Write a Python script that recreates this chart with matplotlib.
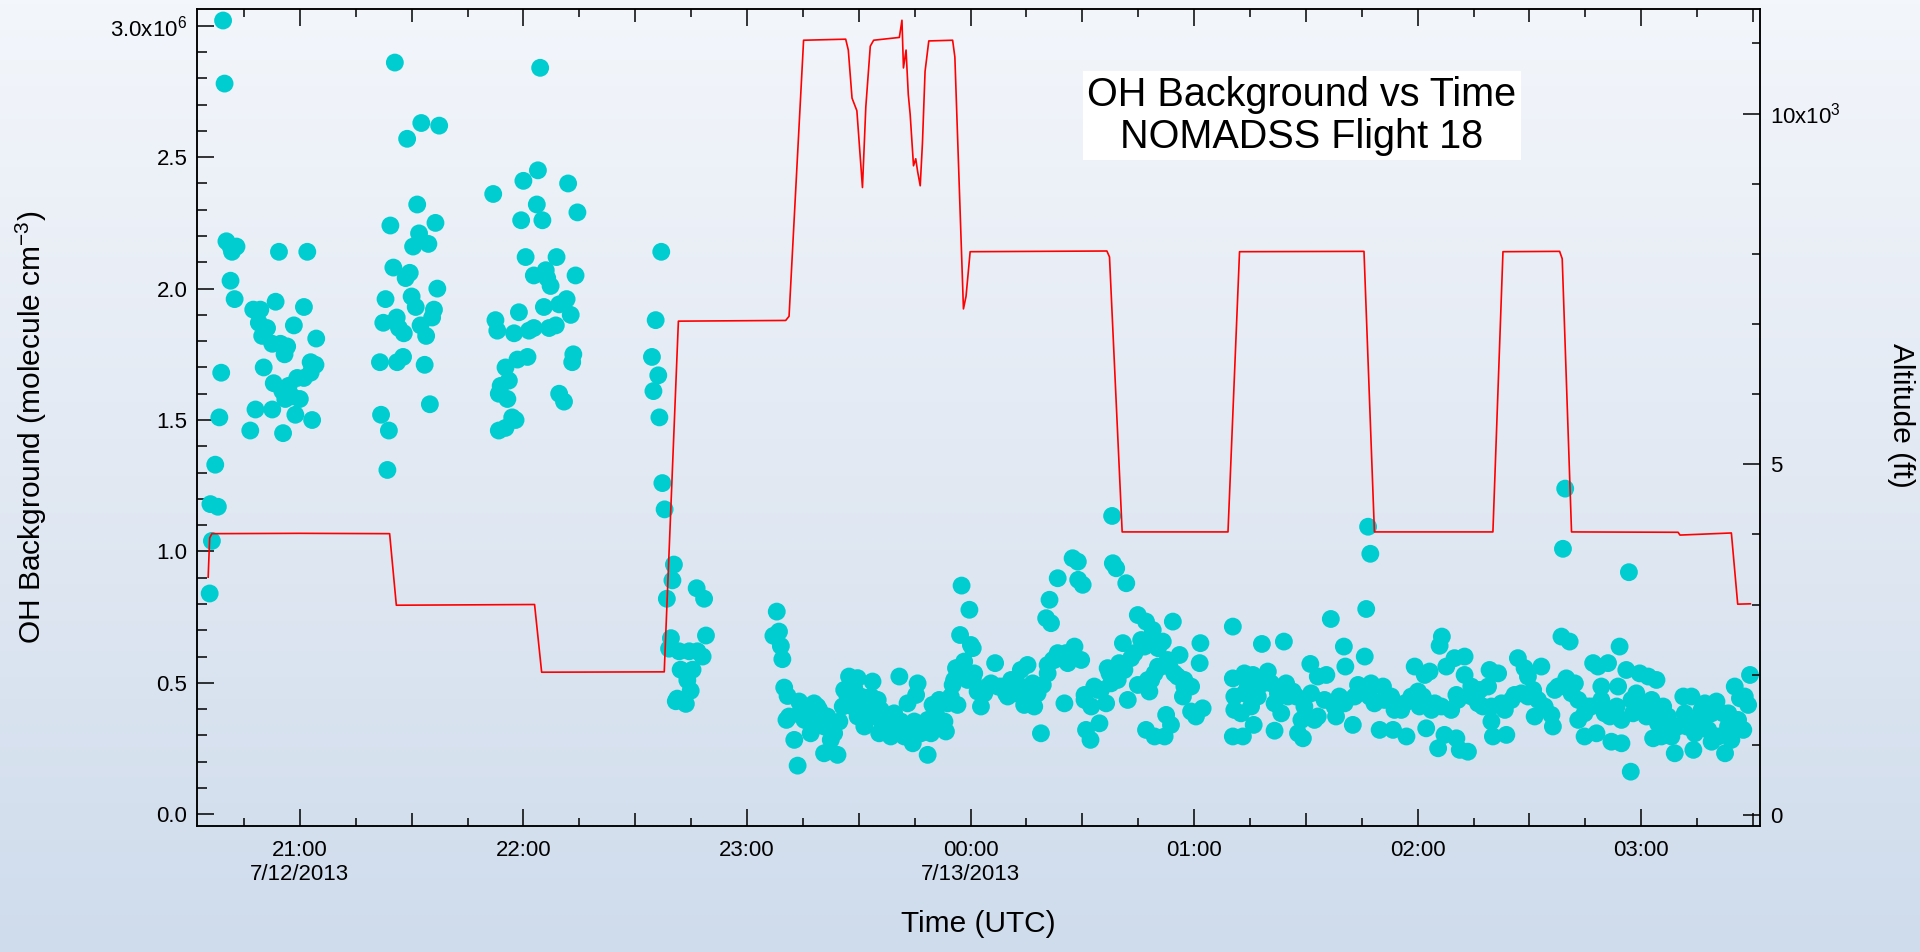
import numpy as np
import pandas as pd
import matplotlib
matplotlib.use("Agg")
import matplotlib.pyplot as plt
import matplotlib.dates as mdates
from matplotlib.colors import LinearSegmentedColormap
from matplotlib.patches import Rectangle
from matplotlib.ticker import FuncFormatter, MultipleLocator

plt.rcParams['font.family'] = ['Liberation Sans', 'DejaVu Sans']
plt.rcParams['mathtext.fontset'] = 'custom'
plt.rcParams['mathtext.rm'] = 'Liberation Sans'
plt.rcParams['mathtext.it'] = 'Liberation Sans:italic'

# OH background samples: minutes after 21:00 UTC 7/12/2013, value in 1e6 molecule cm-3
oh_minutes = [
    -20.6, -20.2, -24.2, -23.6, -24.0, -22.0, -22.7, -21.6, -21.1, -19.7, -18.6, -17.0, -18.2, -18.6, -17.5,
    -12.5, -10.6, -6.5, -5.6, 2.0, 1.1, -1.6, -11.0, -8.8, -10.1, -7.4, -5.2, -3.4, -4.1, 4.4, -9.7, 2.9,
    4.2, 2.9, -0.7, 1.1, -7.0, -4.7, -3.0, -2.1, 0.0, -3.9, -11.9, -7.4, -1.2, 3.3, -13.3, -4.5,
    25.5, 28.8, 32.6, 37.4, 31.5, 24.3, 36.4, 32.0, 30.4, 34.5, 25.1, 29.5, 28.4, 36.9, 23.0, 30.0, 31.1,
    36.0, 35.5, 32.4, 22.4, 26.0, 26.6, 27.9, 33.9, 21.5, 26.1, 27.7, 33.5, 21.8, 23.9, 34.9, 23.5,
    64.5, 51.9, 60.0, 63.9, 72.0, 74.5, 63.6, 59.4, 65.1, 60.6, 68.9, 74.0, 62.8, 66.0, 67.3, 66.4, 71.6,
    65.5, 69.6, 72.7, 52.5, 58.8, 53.0, 57.5, 61.5, 62.8, 66.9, 68.7, 73.4, 73.1, 61.1, 58.4, 55.2, 56.1,
    53.9, 53.4, 55.7, 69.6, 70.9, 57.0, 57.9, 53.4, 55.2,
    97.0, 95.5, 94.5, 96.2, 94.9, 96.5, 97.3, 97.9, 100.4, 100.0, 98.5, 106.5, 108.5, 109.0, 99.6, 99.1,
    101.8, 104.5, 106.7, 108.1, 102.2, 105.4, 104.0, 104.9, 101.3, 103.6, 100.9,
    128.0, 127.1, 128.6, 129.1, 129.5, 130.0, 130.9, 130.6, 132.7, 133.6, 134.0, 135.4, 137.1, 138.0,
    139.4, 138.9, 140.7, 141.6, 142.5, 144.3, 144.8, 143.4, 146.1, 147.4, 149.7, 148.8, 149.7, 151.5,
    153.7, 153.3, 155.1, 155.9, 155.5, 156.8, 158.6, 159.5, 160.9, 161.3, 162.2, 163.1, 164.5, 164.9,
    165.8, 165.4, 166.7, 168.5, 169.4, 169.8, 171.6, 173.0, 173.4, 173.9, 175.2, 176.1, 176.5, 177.2,
    177.6, 179.7, 180.1, 180.6, 178.3, 181.0, 179.2, 182.8, 184.6, 186.6, 187.3, 189.5, 190.9, 192.7,
    193.5, 195.3, 194.4, 197.1, 196.7, 198.0, 199.4, 198.9, 200.3, 201.2, 201.6, 200.7, 202.1, 203.4,
    203.4, 205.2, 205.6, 207.4, 208.8, 208.9, 210.1, 207.9, 209.7, 206.1, 210.6, 211.0, 212.4, 212.2,
    214.6, 214.1, 216.4, 216.8, 218.2, 219.1, 221.8, 217.7, 219.9, 220.9, 222.2, 223.1, 224.9, 227.1,
    228.9, 225.8, 224.9, 228.0, 228.5, 230.3, 231.6, 228.5, 229.4, 231.2, 232.5, 233.8, 234.3, 227.1,
    229.4, 232.1, 233.4, 236.1, 235.6, 237.4, 237.0, 239.2, 240.5, 242.3, 241.5, 241.7, 250.4, 250.4,
    250.8, 250.8, 250.4, 218.0,
    131.3, 134.5, 136.3, 138.9, 140.7, 143.0, 145.7, 147.0, 148.3, 150.6, 151.9, 154.2, 156.4, 157.7,
    159.1, 160.9, 162.7, 164.9, 167.1, 168.5, 170.7, 172.1, 174.7, 175.6, 178.3, 180.6, 181.9, 183.7,
    185.5, 188.2, 190.0, 192.2, 193.6, 195.8, 197.1, 200.7, 202.5, 204.3, 207.0, 210.6, 213.2, 215.0,
    217.3, 219.5, 221.3, 224.0, 226.7, 227.6, 230.3, 232.9, 234.7, 237.4, 239.2,
    287.3, 339.0, 356.7, 286.2, 276.7, 258.2, 264.1, 280.2, 285.8, 280.6, 271.2, 273.2, 275.5, 253.5,
    255.8, 259.8, 260.7, 264.7, 266.5, 253.5, 257.1, 252.6, 255.3, 261.6, 263.4, 267.4, 271.4, 273.2,
    268.8, 253.1, 256.0, 261.6, 267.9, 269.2, 279.0, 278.1, 282.6, 284.0, 287.5, 290.7, 288.4, 292.9,
    289.8, 293.4, 297.0, 295.6, 299.2, 300.1, 301.9, 303.2, 300.5, 302.3, 304.6, 306.5, 305.9, 307.7,
    309.9, 312.6, 309.0, 310.4, 312.6, 314.4, 316.2, 317.5, 305.5, 307.2, 310.4, 311.3, 313.5, 319.3,
    321.6, 318.9, 319.8, 320.2, 323.8, 322.5, 326.0, 326.9, 328.7, 329.6, 333.2, 331.0, 331.4, 335.9,
    336.3, 337.7, 338.6, 340.8, 339.9, 342.2, 341.3, 343.1, 344.8, 345.7, 347.1, 348.4, 351.1, 349.3,
    348.0, 351.6, 352.0, 354.7, 353.4, 353.8, 354.2, 356.0, 357.2, 357.8, 358.7, 359.6, 361.9, 364.1,
    362.8, 361.4, 363.2, 365.9, 367.2, 365.4, 369.0, 368.1, 371.3, 373.5, 372.2, 374.0, 375.3, 377.1,
    380.2, 378.0, 378.9, 382.5, 382.0, 383.3, 384.2, 385.1, 386.5, 387.4, 388.7, 389.2, 286.7, 339.6,
    254.4, 258.5, 262.5, 265.2, 269.6, 272.3, 275.0, 277.7, 280.4, 283.1, 285.3, 287.1, 291.1, 293.8,
    296.5, 298.3, 301.4, 303.7, 306.4, 310.8, 314.4, 316.7, 319.8, 323.4, 325.2, 327.8, 329.6, 332.3,
    334.1, 336.8, 339.5, 343.1, 344.8, 346.6, 349.3, 350.2, 354.7, 357.4, 360.1, 362.8, 364.5, 367.2,
    369.9, 371.7, 374.4, 376.2, 378.9, 380.7, 383.4, 386.0, 387.8,
]
oh_values = [
    3.02, 2.78, 0.84, 1.04, 1.18, 1.17, 1.33, 1.51, 1.68, 2.18, 2.16, 2.16, 2.14, 2.03, 1.96,
    1.92, 1.92, 1.95, 2.14, 2.14, 1.93, 1.86, 1.87, 1.85, 1.82, 1.79, 1.79, 1.78, 1.75, 1.81, 1.70, 1.72,
    1.71, 1.68, 1.66, 1.66, 1.64, 1.61, 1.63, 1.59, 1.58, 1.58, 1.54, 1.54, 1.52, 1.50, 1.46, 1.45,
    2.86, 2.57, 2.63, 2.62, 2.32, 2.24, 2.25, 2.21, 2.16, 2.17, 2.08, 2.06, 2.04, 2.00, 1.96, 1.97, 1.93,
    1.92, 1.89, 1.86, 1.87, 1.89, 1.85, 1.83, 1.82, 1.72, 1.72, 1.74, 1.71, 1.52, 1.46, 1.56, 1.31,
    2.84, 2.36, 2.41, 2.45, 2.40, 2.29, 2.32, 2.26, 2.26, 2.12, 2.12, 2.05, 2.05, 2.07, 2.01, 2.04, 1.96,
    1.93, 1.94, 1.90, 1.88, 1.91, 1.84, 1.83, 1.84, 1.85, 1.85, 1.86, 1.75, 1.72, 1.74, 1.73, 1.70, 1.65,
    1.63, 1.60, 1.58, 1.60, 1.57, 1.51, 1.50, 1.46, 1.47,
    2.14, 1.88, 1.74, 1.67, 1.61, 1.51, 1.26, 1.16, 0.95, 0.89, 0.82, 0.86, 0.82, 0.68, 0.67, 0.63,
    0.62, 0.62, 0.62, 0.60, 0.55, 0.55, 0.51, 0.47, 0.44, 0.42, 0.43,
    0.771, 0.679, 0.695, 0.640, 0.590, 0.482, 0.450, 0.359, 0.283, 0.185, 0.429, 0.359, 0.308, 0.422,
    0.397, 0.359, 0.232, 0.372, 0.283, 0.226, 0.353, 0.308, 0.473, 0.524, 0.518, 0.479, 0.372, 0.334,
    0.505, 0.448, 0.435, 0.397, 0.308, 0.346, 0.296, 0.384, 0.524, 0.353, 0.296, 0.422, 0.270, 0.353,
    0.498, 0.454, 0.308, 0.226, 0.308, 0.416, 0.435, 0.353, 0.315, 0.422, 0.492, 0.556, 0.416, 0.682,
    0.870, 0.778, 0.644, 0.632, 0.581, 0.536, 0.511, 0.410, 0.486, 0.575, 0.486, 0.460, 0.511, 0.473,
    0.549, 0.568, 0.416, 0.410, 0.498, 0.460, 0.492, 0.308, 0.746, 0.816, 0.727, 0.568, 0.587, 0.898,
    0.613, 0.422, 0.613, 0.974, 0.961, 0.892, 0.873, 0.638, 0.587, 0.575, 0.454, 0.321, 0.410, 0.283,
    0.346, 0.473, 0.422, 0.556, 0.955, 0.936, 0.879, 0.498, 0.575, 0.651, 0.435, 0.594, 0.758, 0.733,
    0.701, 0.663, 0.492, 0.467, 0.651, 0.632, 0.657, 0.511, 0.536, 0.562, 0.378, 0.340, 0.733, 0.321,
    0.296, 0.296, 0.562, 0.606, 0.524, 0.486, 0.448, 0.391, 0.372, 0.403, 0.575, 0.651, 0.714, 0.517,
    0.397, 0.448, 0.296, 1.135,
    0.372, 0.397, 0.410, 0.410, 0.334, 0.340, 0.410, 0.448, 0.410, 0.448, 0.397, 0.372, 0.334, 0.359,
    0.334, 0.321, 0.334, 0.296, 0.334, 0.359, 0.384, 0.334, 0.448, 0.511, 0.549, 0.511, 0.467, 0.460,
    0.498, 0.486, 0.448, 0.460, 0.486, 0.448, 0.486, 0.536, 0.587, 0.600, 0.613, 0.435, 0.486, 0.473,
    0.536, 0.511, 0.549, 0.613, 0.638, 0.511, 0.562, 0.587, 0.536, 0.511, 0.486,
    0.991, 1.010, 0.921, 0.781, 0.743, 0.648, 0.657, 0.638, 0.600, 0.562, 0.572, 0.524, 0.530, 0.536,
    0.530, 0.543, 0.498, 0.498, 0.467, 0.460, 0.448, 0.384, 0.410, 0.422, 0.384, 0.448, 0.460, 0.372,
    0.359, 0.296, 0.340, 0.318, 0.308, 0.289, 0.448, 0.372, 0.340, 0.492, 0.498, 0.486, 0.422, 0.448,
    0.321, 0.321, 0.296, 0.397, 0.562, 0.467, 0.530, 0.543, 0.410, 0.327, 0.422, 0.676, 0.641, 0.562,
    0.594, 0.600, 0.397, 0.454, 0.530, 0.486, 0.422, 0.410, 0.251, 0.302, 0.289, 0.245, 0.238, 0.549,
    0.536, 0.486, 0.353, 0.296, 0.302, 0.422, 0.454, 0.594, 0.556, 0.524, 0.562, 0.473, 0.372, 0.378,
    0.334, 0.486, 0.676, 0.657, 0.517, 0.498, 0.460, 0.359, 0.296, 0.410, 0.575, 0.562, 0.575, 0.486,
    0.308, 0.372, 0.276, 0.270, 0.410, 0.486, 0.638, 0.549, 0.162, 0.384, 0.460, 0.536, 0.524, 0.511,
    0.435, 0.372, 0.289, 0.410, 0.372, 0.296, 0.232, 0.296, 0.448, 0.448, 0.334, 0.245, 0.359, 0.422,
    0.429, 0.321, 0.276, 0.232, 0.384, 0.334, 0.283, 0.486, 0.441, 0.321, 0.416, 0.530, 1.094, 1.239,
    0.486, 0.498, 0.460, 0.448, 0.410, 0.359, 0.435, 0.410, 0.422, 0.448, 0.473, 0.448, 0.435, 0.397,
    0.422, 0.448, 0.448, 0.397, 0.410, 0.435, 0.448, 0.473, 0.410, 0.397, 0.435, 0.460, 0.448, 0.435,
    0.410, 0.473, 0.486, 0.435, 0.384, 0.410, 0.435, 0.384, 0.359, 0.435, 0.422, 0.384, 0.346, 0.321,
    0.334, 0.384, 0.308, 0.397, 0.384, 0.296, 0.384, 0.359, 0.448,
]

# aircraft altitude track: minutes after 21:00 UTC, altitude in ft
alt_minutes = [
    -24.6, -24.2, -23.6, 0.0, 24.1, 25.9, 63.0, 64.9, 97.8, 101.6, 130.4, 131.3, 135.2, 146.5, 147.2,
    148.2, 149.5, 151.0, 151.9, 153.1, 154.0, 160.9, 161.6, 162.0, 162.7, 163.3, 163.8, 164.7, 165.3,
    165.8, 166.5, 167.1, 167.8, 168.8, 175.2, 175.8, 178.1, 178.8, 179.9, 216.6, 217.3, 220.7, 249.1,
    252.2, 285.6, 288.4, 320.2, 322.9, 338.1, 338.8, 341.3, 369.9, 370.4, 384.2, 385.9, 389.3,
]
alt_feet = [
    3390, 3950, 4010, 4015, 4010, 2990, 3000, 2035, 2040, 7040, 7050, 7110, 11045, 11060, 10905,
    10220, 10040, 8945, 10095, 10960, 11045, 11085, 11330, 10650, 10905, 10270, 9990, 9255, 9355,
    9175, 8970, 9580, 10600, 11035, 11045, 10805, 7215, 7395, 8030, 8040, 7955, 4035, 4035,
    8030, 8035, 4035, 4035, 8030, 8035, 7930, 4035, 4030, 3990, 4020, 3005, 3010,
]

base = pd.Timestamp('2013-07-12 21:00')
oh_time = base + pd.to_timedelta(oh_minutes, unit='min')
alt_time = base + pd.to_timedelta(alt_minutes, unit='min')

fig = plt.figure(figsize=(19.2, 9.52), dpi=100)

# soft vertical gradient behind everything
bg = fig.add_axes([0, 0, 1, 1], zorder=-10)
grad_cmap = LinearSegmentedColormap.from_list('bg', ['#cfdcec', '#e2e9f3', '#f3f6fb'])
bg.imshow(np.linspace(0, 1, 256).reshape(-1, 1), aspect='auto', cmap=grad_cmap,
          extent=[0, 1, 0, 1], origin='lower')
bg.axis('off')

ax = fig.add_axes([0.1026, 0.1324, 0.8141, 0.8582])
ax.set_facecolor('none')
ax2 = ax.twinx()

ax.scatter(oh_time, oh_values, s=165, color='#00cdd0', edgecolors='none', zorder=2)
ax2.plot(alt_time, alt_feet, color='#ff0000', lw=1.2)

ax.set_xlim(pd.Timestamp('2013-07-12 20:32:24'), pd.Timestamp('2013-07-13 03:31:54'))
ax.set_ylim(-0.0445, 3.064)
ax2.set_ylim(-157, 11491)


def fmt_time(x, pos):
    d = mdates.num2date(x)
    if d.minute != 0:
        return ''
    s = d.strftime('%H:%M')
    if d.hour == 21:
        s += '\n7/12/2013'
    elif d.hour == 0:
        s += '\n7/13/2013'
    return s


def fmt_left(v, pos):
    if abs(v - 3.0) < 1e-6:
        return '3.0x10$^6$'
    return '%.1f' % v


def fmt_right(v, pos):
    if abs(v) < 1:
        return '0'
    if abs(v - 5000) < 1:
        return '5'
    if abs(v - 10000) < 1:
        return '10x10$^3$'
    return ''


ax.xaxis.set_major_locator(mdates.MinuteLocator(byminute=[0, 30]))
ax.xaxis.set_minor_locator(mdates.MinuteLocator(byminute=[15, 45]))
ax.xaxis.set_major_formatter(FuncFormatter(fmt_time))
ax.yaxis.set_major_locator(MultipleLocator(0.5))
ax.yaxis.set_minor_locator(MultipleLocator(0.1))
ax.yaxis.set_major_formatter(FuncFormatter(fmt_left))
ax2.yaxis.set_major_locator(MultipleLocator(5000))
ax2.yaxis.set_minor_locator(MultipleLocator(1000))
ax2.yaxis.set_major_formatter(FuncFormatter(fmt_right))

ax.tick_params(axis='x', which='major', direction='in', top=True, length=9.4, width=1.1,
               labelsize=16, pad=10)
ax.tick_params(axis='x', which='minor', direction='in', top=True, length=5.8, width=1.1)
ax.tick_params(axis='y', which='major', direction='in', length=12.2, width=1.1, labelsize=16, pad=7)
ax.tick_params(axis='y', which='minor', direction='in', length=7, width=1.1)
ax2.tick_params(axis='y', which='major', direction='in', length=12.2, width=1.1, labelsize=16, pad=7)
ax2.tick_params(axis='y', which='minor', direction='in', length=6, width=1.1)

# hour ticks longer than half-hour ticks
locs = ax.xaxis.get_majorticklocs()
for loc, tk in zip(locs, ax.xaxis.get_major_ticks(len(locs))):
    if mdates.num2date(loc).minute == 0:
        tk.tick1line.set_markersize(12.2)
        tk.tick2line.set_markersize(12.2)

for a in (ax, ax2):
    for sp in a.spines.values():
        sp.set_linewidth(1.1)

fig.text(31 / 1920, 1 - 427 / 952, 'OH Background (molecule cm$^{-3}$)', rotation=90,
         ha='center', va='center', fontsize=21.5)
fig.text(1901 / 1920, 1 - 415 / 952, 'Altitude (ft)', rotation=-90,
         ha='center', va='center', fontsize=21.5)
fig.text(978 / 1920, 1 - 924 / 952, 'Time (UTC)', ha='center', va='center', fontsize=21.5)

fig.patches.append(Rectangle((1083 / 1920, 1 - 160 / 952), 438 / 1920, 89.3 / 952,
                             transform=fig.transFigure, facecolor='white', edgecolor='none', zorder=5))
fig.text(1302 / 1920, 1 - 116 / 952, 'OH Background vs Time\nNOMADSS Flight 18',
         ha='center', va='center', fontsize=28.5, linespacing=1.1, zorder=6)

fig.savefig('out.png', dpi=100)
